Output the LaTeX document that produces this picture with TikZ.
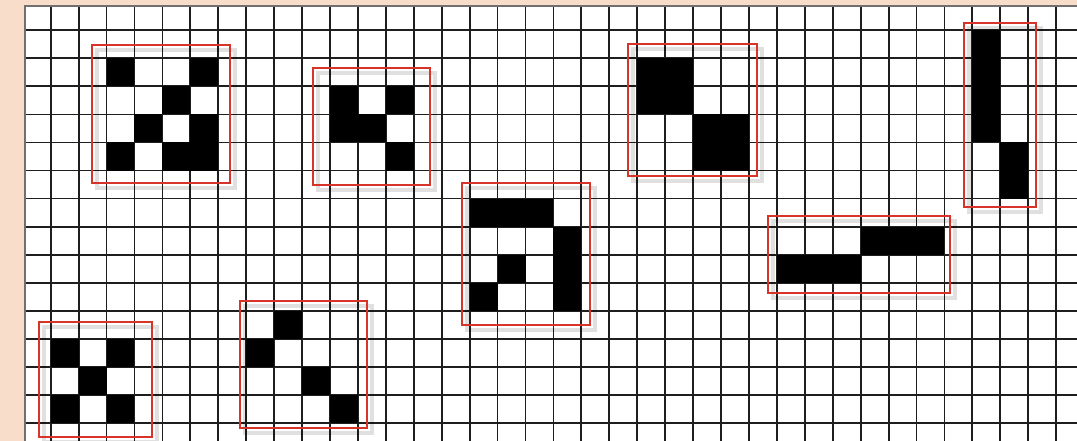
\documentclass[tikz,border=0pt]{standalone}
\usetikzlibrary{calc}
\definecolor{beige}{HTML}{F8DDCB}
\definecolor{frame}{HTML}{707070}
\definecolor{boxred}{HTML}{D8342A}
\definecolor{gridc}{HTML}{1E1E1E}
\tikzset{
  gridline/.style={draw=gridc, line width=1.8pt},
  cell/.style={fill=black},
  redbox/.style={draw=boxred, line width=2pt},
  boxshadow/.style={draw=black, opacity=0.12, line width=4pt},
}
\begin{document}
\begin{tikzpicture}[x=1pt,y=-1pt]
\useasboundingbox (0,0) rectangle (1077,441);
\fill[beige] (0,0) rectangle (1077,441);
\fill[white] (25,5.7) rectangle (1077,441);
\begin{scope}
\clip (25,5.7) rectangle (1077,441);
\begin{scope}[shift={(50.7,30.3)}, x=27.93pt, y=-28.05pt]
  \foreach \k in {-1,...,37} \draw[gridline] (\k,-2) -- (\k,16);
  \foreach \j in {-1,...,15} \draw[gridline] (-2,\j) -- (38,\j);
  % black cells
  \foreach \c/\r in {2/1,5/1,4/2,3/3,5/3,2/4,4/4,5/4,
                     10/2,12/2,10/3,11/3,12/4,
                     15/6,16/6,17/6,18/7,16/8,18/8,15/9,18/9,
                     21/1,22/1,21/2,22/2,23/3,24/3,23/4,24/4,
                     29/7,30/7,31/7,26/8,27/8,28/8,
                     33/0,33/1,33/2,33/3,34/4,34/5,
                     0/11,2/11,1/12,0/13,2/13,
                     8/10,7/11,9/12,10/13}
    \fill[cell] (\c,\r) rectangle ++(1,1);
\end{scope}
% shadows of red frames
\foreach \a/\b/\cc/\d in {91.7/45/230/183, 312.7/68.3/430/185, 461.7/182.7/590/325,
                         627.7/44/756.7/175.7, 768.3/216/950/292.7, 964/22.7/1036/206.7,
                         39/322.3/151.7/436.7, 240/300.7/366.7/428.3}
  \draw[boxshadow] (\a+5,\b+5) rectangle (\cc+5,\d+5);
% red frames
\draw[redbox] (91.7,45) rectangle (230,183);
\draw[redbox] (312.7,68.3) rectangle (430,185);
\draw[redbox] (461.7,182.7) rectangle (590,325);
\draw[redbox] (627.7,44) rectangle (756.7,175.7);
\draw[redbox] (768.3,216) rectangle (950,292.7);
\draw[redbox] (964,22.7) rectangle (1036,206.7);
\draw[redbox] (39,322.3) rectangle (151.7,436.7);
\draw[redbox] (240,300.7) rectangle (366.7,428.3);
\end{scope}
\draw[frame, line width=2pt] (25,441) -- (25,5.7) -- (1077,5.7);
\end{tikzpicture}
\end{document}
